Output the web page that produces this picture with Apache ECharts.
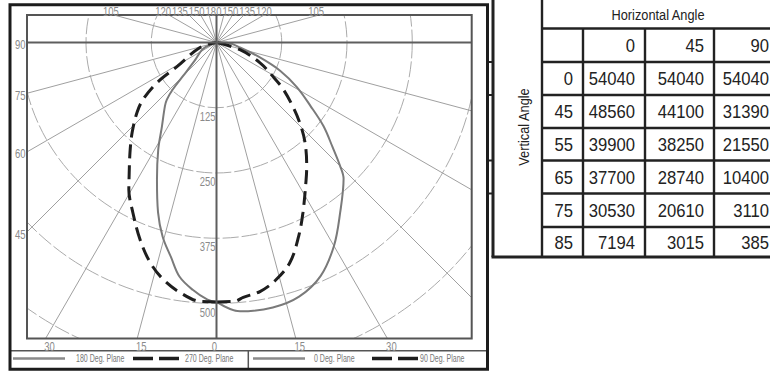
<!DOCTYPE html>
<html>
<head>
<meta charset="utf-8">
<script src="https://cdn.jsdelivr.net/npm/echarts@6/dist/echarts.min.js"></script>
<style>
  html, body { margin: 0; padding: 0; background: #fff; }
  #chart { width: 770px; height: 371px; }
</style>
</head>
<body>
<div id="chart"></div>
<script>
// ---- polar candela plot: vertical angle from nadir (deg) and intensity per plane ----
const plane0Angle   = [0, 5, 12, 18, 24, 30, 36, 43, 45, 48, 52, 56, 61, 66, 71, 78, 88, 90];
const plane0Value   = [497, 517, 519, 512, 490, 450, 403, 357, 335, 299, 260, 217, 176, 134, 88, 46, 20, 0];
const plane90Angle  = [0, 4, 6, 10, 14, 18.5, 23, 27, 33, 36, 41.5, 46, 50, 55, 59, 65, 73, 90];
const plane90Value  = [497, 497, 491, 484, 469, 444, 403, 365, 315, 294, 256, 222, 191, 156, 126, 92, 47, 0];
const plane180Angle = [0, 2, 5.5, 9, 12, 15.5, 19, 23.5, 28.5, 33, 39, 41, 43, 45, 50, 65, 90];
const plane180Value = [497, 493, 476, 454, 420, 386, 344, 286, 234, 192, 157, 145, 123, 90, 55, 28, 0];
const plane270Angle = [0, 3.6, 8.3, 12.7, 16.8, 21.2, 26.2, 30.8, 32.6, 38.2, 43.2, 48.6, 52.2, 56, 58.7, 73, 90];
const plane270Value = [497, 497, 484, 465, 440, 405, 363, 328, 311, 268, 236, 203, 178, 137, 88, 33, 0];

// axis tick labels
const ringValues = [125, 250, 375, 500];
const sideAngleLabels = [90, 75, 60, 45];              // left edge
const bottomAngleLabels = [-30, -15, 0, 15, 30];       // bottom edge (sign = side)
const topAngleLabels = [-105, -120, -135, -150, 180, 150, 135, 120, 105]; // top edge

// legend
const legendNames = ['180 Deg. Plane', '270 Deg. Plane', '0 Deg. Plane', '90 Deg. Plane'];

// ---- candela table ----
const horizontalAngles = [0, 45, 90];
const verticalAngles = [0, 45, 55, 65, 75, 85];
const candela0  = [54040, 48560, 39900, 37700, 30530, 7194];
const candela45 = [54040, 44100, 38250, 28740, 20610, 3015];
const candela90 = [54040, 31390, 21550, 10400, 3110, 385];

// ---- layout & style ----
const SANS = '"Liberation Sans",Arial,sans-serif';
const CENTER = [216.5, 42.5];
const RADIUS_MAX = 750;
const RADIUS_PX = 391.5;
const FRAME = { x0: 27, y0: 15, x1: 471.7, y1: 338.5 };
const GRID_GRAY = '#a0a0a0';
const LABEL_GRAY = '#8a8a8a';
const CURVE_GRAY = '#7a7a7a';
const INK = '#1e1e1e';

const toPairs = (angles, values, mirror) =>
  angles.map((a, i) => [values[i], mirror ? 360 - a : a]);

const chart = echarts.init(document.getElementById('chart'), null, { renderer: 'svg' });

function curve(name, angles, values, mirror, dashed) {
  return {
    name, type: 'line', coordinateSystem: 'polar', polarIndex: 0,
    data: toPairs(angles, values, mirror),
    smooth: 0.35, symbol: 'none', silent: true, z: 5,
    lineStyle: dashed
      ? { color: INK, width: 3, type: [14, 7] }
      : { color: CURVE_GRAY, width: 2 }
  };
}

chart.setOption({
  animation: false,
  polar: { center: CENTER, radius: [0, RADIUS_PX] },
  angleAxis: {
    type: 'value', min: 0, max: 360, interval: 15,
    startAngle: 270, clockwise: false,
    axisLine: { show: false }, axisTick: { show: false }, axisLabel: { show: false },
    splitLine: { show: true, lineStyle: { color: GRID_GRAY, width: 1 } }
  },
  radiusAxis: {
    type: 'value', min: 0, max: RADIUS_MAX, interval: 125,
    axisLine: { show: false }, axisTick: { show: false }, axisLabel: { show: false },
    splitLine: { show: true, lineStyle: { color: '#ababab', width: 1, type: [16, 3] } }
  },
  series: [
    curve('180 Deg. Plane', plane180Angle, plane180Value, true, false),
    curve('270 Deg. Plane', plane270Angle, plane270Value, true, true),
    curve('0 Deg. Plane', plane0Angle, plane0Value, false, false),
    curve('90 Deg. Plane', plane90Angle, plane90Value, false, true)
  ]
});

// ---------- overlay: masks, frame, labels, legend, table ----------
const g = [];
const rect = (x, y, w, h, z) => g.push({ type: 'rect', z: z || 20, silent: true,
  shape: { x, y, width: w, height: h }, style: { fill: '#fff' } });
const line = (x1, y1, x2, y2, stroke, w, z, dash) => g.push({ type: 'line', z: z || 30, silent: true,
  shape: { x1, y1, x2, y2 }, style: { stroke, lineWidth: w, lineDash: dash || null } });
// condensed text: a regular sans squeezed horizontally around its anchor
const text = (t, x, y, size, squeeze, fill, align, valign, extra) => g.push(Object.assign({
  type: 'text', z: 40, silent: true, x, y, scaleX: squeeze, scaleY: 1,
  style: { text: String(t), x: 0, y: 0, font: size + 'px ' + SANS, fill,
    align, textAlign: align, verticalAlign: valign, textVerticalAlign: valign }
}, extra || {}));

// white masks around the plot frame
rect(0, 0, 770, FRAME.y0);
rect(0, 0, FRAME.x0, 371);
rect(FRAME.x1, 0, 770 - FRAME.x1, 371);
rect(0, FRAME.y1, 770, 371 - FRAME.y1);

const c = chart.convertToPixel({ polarIndex: 0 }, [0, 0]);
const cx = c[0], cy = c[1];

// crosshair through the centre
line(FRAME.x0, cy, FRAME.x1, cy, '#5e5e5e', 2, 25);
line(cx, FRAME.y0, cx, FRAME.y1, '#5e5e5e', 2, 25);
// plot frame
g.push({ type: 'rect', z: 30, silent: true,
  shape: { x: FRAME.x0, y: FRAME.y0, width: FRAME.x1 - FRAME.x0, height: FRAME.y1 - FRAME.y0 },
  style: { fill: null, stroke: '#555', lineWidth: 2 } });

// ring labels along the nadir axis
const LBL = 12.5, LBL_SQ = 0.76;
ringValues.forEach(v => {
  const p = chart.convertToPixel({ polarIndex: 0 }, [v, 0]);
  text(v, p[0] - 1, p[1] + 2, LBL, LBL_SQ, LABEL_GRAY, 'right', 'top');
});

const rad = d => d * Math.PI / 180;
// left edge labels: where each radial meets the left frame
sideAngleLabels.forEach(a => {
  const y = a === 90 ? cy : cy + (cx - FRAME.x0) / Math.tan(rad(a));
  text(a, FRAME.x0 - 1.5, y + 2, LBL, LBL_SQ, LABEL_GRAY, 'right', 'middle');
});
// bottom edge labels
bottomAngleLabels.forEach(a => {
  const x = cx + (FRAME.y1 - cy) * Math.tan(rad(a));
  text(Math.abs(a), a === 0 ? x - 2 : x + 4, FRAME.y1 + 7.5, LBL, LBL_SQ, LABEL_GRAY, 'center', 'middle');
});
// top edge labels, spread apart where the radials crowd together
const LABEL_W = 16.8;
const topX = topAngleLabels.map(a => {
  const b = 180 - Math.abs(a);
  return cx + Math.sign(a === 180 ? 0 : a) * (cy - FRAME.y0) * Math.tan(rad(b));
});
for (let it = 0; it < 200; it++) {
  for (let i = 0; i < topX.length - 1; i++) {
    const gap = topX[i + 1] - topX[i];
    if (gap < LABEL_W) { const d = (LABEL_W - gap) / 2; topX[i] -= d; topX[i + 1] += d; }
  }
}
topAngleLabels.forEach((a, i) => {
  text(Math.abs(a), topX[i] - 3, FRAME.y0 + 2.5, LBL, LBL_SQ, LABEL_GRAY, 'center', 'bottom');
});

// outer border and legend strip
const LEG_TOP = 350.7, LEG_MID = 358.5, BORDER_B = 369.3;
line(10, LEG_TOP, 487.5, LEG_TOP, '#555', 1.5, 35);
line(248.3, LEG_TOP, 248.3, BORDER_B, '#555', 1.5, 35);
g.push({ type: 'rect', z: 36, silent: true,
  shape: { x: 10, y: 4.7, width: 477.5, height: BORDER_B - 4.7 },
  style: { fill: null, stroke: '#1c1c1c', lineWidth: 3 } });

const LEG = 10.5, LEG_SQ = 0.67;
const solidKey = (x0, x1) => line(x0, LEG_MID, x1, LEG_MID, '#8a8a8a', 2.6, 38);
const dashKey = (x0, x1) => line(x0, LEG_MID, x1, LEG_MID, INK, 3.6, 38, [20, 6]);
solidKey(13, 65);  text(legendNames[0], 76, LEG_MID, LEG, LEG_SQ, '#777', 'left', 'middle');
dashKey(133, 179); text(legendNames[1], 185, LEG_MID, LEG, LEG_SQ, '#777', 'left', 'middle');
solidKey(253, 305); text(legendNames[2], 314, LEG_MID, LEG, LEG_SQ, '#777', 'left', 'middle');
dashKey(372, 418); text(legendNames[3], 420, LEG_MID, LEG, LEG_SQ, '#777', 'left', 'middle');

// ---- table ----
const T_LEFT = 493, T_SPLIT = 542;
const colEdges = [542, 583, 645, 714, 779];
const rowEdges = [0, 28.5, 62, 95, 128, 160.5, 193.5, 227, 257];
const TBL = '#222';
const tw = 2.4;
line(T_LEFT, 0, T_LEFT, 257, TBL, 3, 45);
line(T_SPLIT, 0, T_SPLIT, 257, TBL, tw, 45);
line(T_LEFT - 1.5, 257, 770, 257, TBL, 3, 45);
line(T_SPLIT, rowEdges[1], 770, rowEdges[1], TBL, tw, 45);
for (let r = 2; r < rowEdges.length - 1; r++) {
  line(T_SPLIT, rowEdges[r], 770, rowEdges[r], TBL, tw, 45);
}
[62, 95, 160.5, 193.5].forEach(y => line(489, y, T_LEFT, y, TBL, 2, 45));
for (let k = 1; k < colEdges.length - 1; k++) {
  line(colEdges[k], rowEdges[1], colEdges[k], 257, TBL, tw, 45);
}

const HEAD = 15.4, HEAD_SQ = 0.83;
const CELL = 18.5, CELL_SQ = 0.9;
text('Horizontal Angle', 658, rowEdges[1] / 2 + 0.5, HEAD, HEAD_SQ, TBL, 'center', 'middle');
text('Vertical Angle', 524, 127, HEAD, HEAD_SQ, TBL, 'center', 'middle', { rotation: Math.PI / 2 });
const PAD = 10;
const midRow = r => (rowEdges[r] + rowEdges[r + 1]) / 2 + 0.5;
horizontalAngles.forEach((h, j) =>
  text(h, colEdges[j + 2] - PAD, midRow(1), CELL, CELL_SQ, TBL, 'right', 'middle'));
const columns = [candela0, candela45, candela90];
verticalAngles.forEach((v, i) => {
  text(v, colEdges[1] - PAD, midRow(i + 2), CELL, CELL_SQ, TBL, 'right', 'middle');
  columns.forEach((col, j) =>
    text(col[i], colEdges[j + 2] - PAD, midRow(i + 2), CELL, CELL_SQ, TBL, 'right', 'middle'));
});

chart.setOption({ graphic: { elements: g } });
</script>
</body>
</html>
